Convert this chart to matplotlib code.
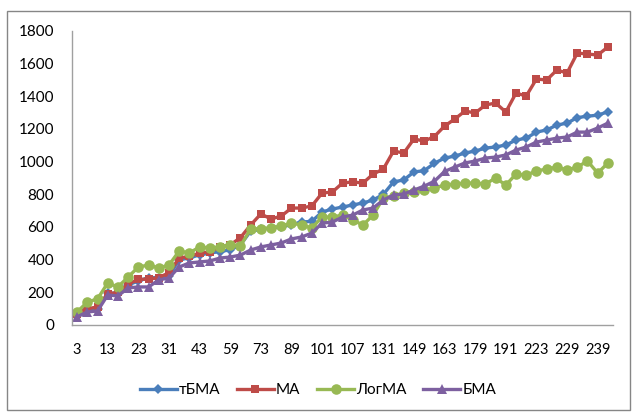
import matplotlib
matplotlib.use("Agg")
import matplotlib.pyplot as plt
from matplotlib.patches import Rectangle
import numpy as np

plt.rcParams['font.family'] = ['Lato', 'Open Sans', 'DejaVu Sans']

categories = [3, 7, 11, 13, 17, 19, 23, 27, 29, 31, 37, 41, 43, 47, 53, 59, 61, 67,
              73, 79, 83, 89, 93, 97, 101, 103, 105, 107, 109, 113, 131, 137, 139,
              149, 151, 157, 163, 167, 173, 179, 181, 187, 191, 197, 211, 223, 225,
              227, 229, 233, 237, 239, 241]

tbma = [70, 95, 100, 195, 195, 245, 270, 290, 290, 300, 400, 410, 430, 440, 450, 460,
        490, 575, 585, 595, 600, 615, 630, 635, 692, 710, 722, 735, 747, 765, 800, 876,
        888, 937, 945, 990, 1022, 1034, 1053, 1065, 1083, 1090, 1102, 1132, 1144, 1181,
        1194, 1224, 1236, 1270, 1278, 1285, 1305]

ma = [70, 100, 110, 190, 200, 250, 280, 280, 290, 320, 410, 420, 440, 447, 480, 490,
      535, 612, 680, 649, 667, 716, 716, 729, 808, 814, 869, 876, 869, 924, 955, 1065,
      1053, 1139, 1126, 1154, 1218, 1261, 1310, 1298, 1347, 1359, 1304, 1420, 1402,
      1506, 1500, 1561, 1543, 1665, 1659, 1653, 1702]

logma = [80, 140, 160, 257, 233, 294, 355, 367, 349, 367, 453, 441, 478, 471, 478, 490,
         484, 588, 590, 594, 606, 624, 612, 594, 661, 661, 673, 643, 612, 673, 777, 790,
         808, 815, 826, 838, 857, 863, 869, 869, 863, 900, 857, 924, 918, 943, 955, 967,
         949, 967, 1004, 930, 992]

bma = [50, 80, 86, 184, 178, 227, 233, 233, 276, 288, 355, 380, 386, 392, 410, 416,
       428, 459, 478, 490, 502, 527, 539, 563, 624, 630, 661, 673, 704, 716, 765, 796,
       802, 826, 850, 880, 940, 967, 992, 1004, 1022, 1028, 1041, 1071, 1090, 1120,
       1132, 1144, 1151, 1181, 1181, 1206, 1236]

series_names = ['тБМА', 'МА', 'ЛогМА', 'БМА']
colors = ['#4A7EBB', '#BE4B48', '#98B954', '#7D60A0']
markers = ['D', 's', 'o', '^']
msizes = [5.4, 6.2, 7.6, 6.8]

W, H = 636, 412
fig = plt.figure(figsize=(W / 100, H / 100), dpi=100)
ax = fig.add_axes([72 / W, 1 - 325 / H, (613 - 72) / W, (325 - 31) / H])

x = np.arange(len(categories))
for data, name, c, m, ms in zip([tbma, ma, logma, bma], series_names, colors, markers, msizes):
    ax.plot(x, data, color=c, marker=m, markersize=ms, linewidth=2.4,
            markeredgewidth=0, label=name)

ax.set_xlim(-0.5, len(categories) - 0.5)
ax.set_ylim(0, 1800)
ax.set_yticks(np.arange(0, 1801, 200))
ax.set_xticks(x[::3])
ax.set_xticklabels([str(c) for c in categories[::3]])
ax.tick_params(axis='y', length=0, pad=13, labelsize=11)
ax.tick_params(axis='x', length=0, pad=13, labelsize=10.5)

for s in ['top', 'right']:
    ax.spines[s].set_visible(False)
ax.spines['left'].set_color('#A0A0A0')
ax.spines['bottom'].set_color('#A0A0A0')
ax.spines['left'].set_linewidth(1)
ax.spines['bottom'].set_linewidth(1)

fig.legend(loc='center', bbox_to_anchor=(0.5, 1 - 390 / H), ncol=4, frameon=False,
           fontsize=11, handlelength=2.4, handletextpad=0.15, columnspacing=1.1)

fig.patches.append(Rectangle((7 / W, 2 / H), 623 / W, 399 / H, transform=fig.transFigure,
                             fill=False, edgecolor='#868686', linewidth=1))

fig.savefig('out.png', dpi=100)
